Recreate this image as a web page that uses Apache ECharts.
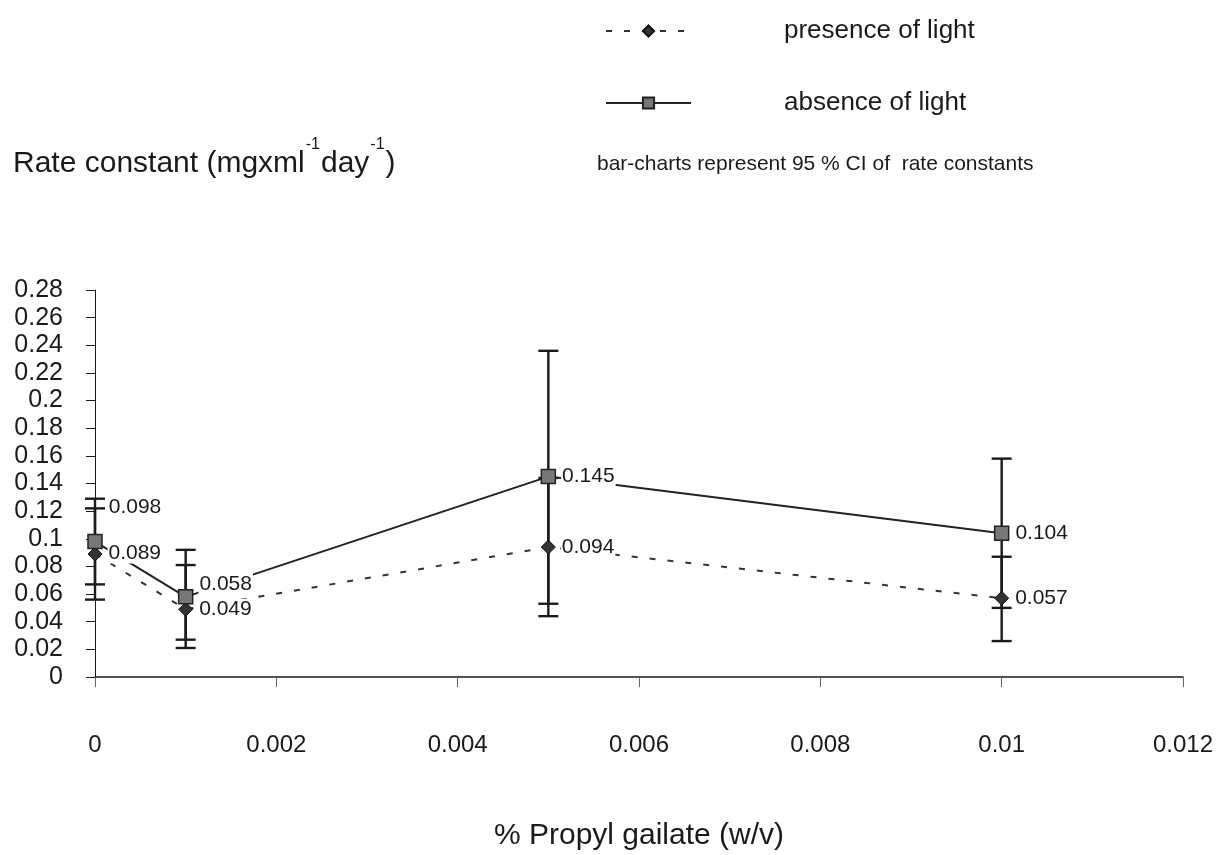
<!DOCTYPE html>
<html>
<head>
<meta charset="utf-8">
<script src="https://cdn.jsdelivr.net/npm/echarts@6/dist/echarts.min.js"></script>
<style>
html,body{margin:0;padding:0;background:#fff;}
#chart{width:1223px;height:855px;}
</style>
</head>
<body>
<div id="chart"></div>
<script>
// ---- data ----
const xValues = [0, 0.001, 0.005, 0.01];
const presence = [0.089, 0.049, 0.094, 0.057];
const absence = [0.098, 0.058, 0.145, 0.104];
const presenceLow = [0.056, 0.021, 0.044, 0.026];
const presenceHigh = [0.122, 0.081, 0.144, 0.087];
const absenceLow = [0.067, 0.027, 0.053, 0.050];
const absenceHigh = [0.129, 0.092, 0.236, 0.158];
const seriesNames = ['presence of light', 'absence of light'];
const xTitle = '% Propyl gailate (w/v)';
const note = 'bar-charts represent 95 % CI of  rate constants';

const FONT = '"Liberation Sans", Arial, sans-serif';
const INK = '#1a1a1a';

// label placement (style only)
const absLabelOffset = [[0, -34], [0, -13], [0, 0], [0, 0]];
const preLabelOffset = [[0, -1], [0, 0], [0, 0], [0, 0]];

function pts(vals, offs) {
  return xValues.map((x, i) => ({
    value: [x, vals[i]],
    label: { offset: offs[i] }
  }));
}
function bars(lo, hi) {
  return xValues.map((x, i) => [x, lo[i], hi[i]]);
}

function renderErr(params, api) {
  const x = api.value(0);
  const top = api.coord([x, api.value(2)]);
  const bot = api.coord([x, api.value(1)]);
  const hw = 10;
  const st = { stroke: INK, lineWidth: 2.4 };
  return {
    type: 'group',
    children: [
      { type: 'line', shape: { x1: top[0], y1: top[1], x2: bot[0], y2: bot[1] }, style: st },
      { type: 'line', shape: { x1: top[0] - hw, y1: top[1], x2: top[0] + hw, y2: top[1] }, style: st },
      { type: 'line', shape: { x1: bot[0] - hw, y1: bot[1], x2: bot[0] + hw, y2: bot[1] }, style: st }
    ]
  };
}

const labelStyle = {
  show: true,
  position: 'right',
  distance: 5,
  fontFamily: FONT,
  fontSize: 21,
  color: INK,
  backgroundColor: '#fff',
  padding: [0, 1],
  formatter: p => p.value[1].toFixed(3)
};

const chart = echarts.init(document.getElementById('chart'), null, { renderer: 'canvas' });
chart.setOption({
  backgroundColor: '#fff',
  animation: false,
  textStyle: { fontFamily: FONT },
  title: [
    {
      text: '{n|Rate constant (mgxml}{s|-1}{n|day}{s|-1}{n|)}',
      left: 8, top: 128,
      textStyle: {
        fontWeight: 'normal',
        rich: {
          n: { fontFamily: FONT, fontSize: 30, fontWeight: 'normal', color: INK, lineHeight: 46, verticalAlign: 'bottom' },
          s: { fontFamily: FONT, fontSize: 16, fontWeight: 'normal', color: INK, lineHeight: 46, verticalAlign: 'top', padding: [4, 1, 0, 1] }
        }
      }
    },
    {
      text: note,
      left: 592, top: 149,
      textStyle: { fontFamily: FONT, fontSize: 21, fontWeight: 'normal', color: INK }
    }
  ],
  legend: {
    orient: 'vertical',
    left: 600, top: 13,
    itemWidth: 85, itemHeight: 14,
    itemGap: 46,
    data: seriesNames,
    textStyle: { fontFamily: FONT, fontSize: 26, color: INK, padding: [0, 0, 0, 88] }
  },
  grid: { left: 95, right: 40, top: 290, bottom: 178, outerBoundsMode: 'none', containLabel: false },
  xAxis: {
    type: 'value',
    min: 0, max: 0.012, interval: 0.002,
    name: xTitle,
    nameLocation: 'middle',
    nameGap: 144,
    nameTextStyle: { fontFamily: FONT, fontSize: 30, color: INK },
    axisLine: { lineStyle: { color: INK, width: 1.5 } },
    axisTick: { show: true, length: 10, lineStyle: { color: '#666' } },
    axisLabel: { margin: 56, fontFamily: FONT, fontSize: 24, color: INK },
    splitLine: { show: false }
  },
  yAxis: {
    type: 'value',
    min: 0, max: 0.28, interval: 0.02,
    axisLine: { show: true, lineStyle: { color: INK, width: 1 } },
    axisTick: { show: true, length: 9, lineStyle: { color: INK } },
    axisLabel: { margin: 32, fontFamily: FONT, fontSize: 25, color: INK },
    splitLine: { show: false }
  },
  series: [
    {
      name: seriesNames[0],
      type: 'line',
      data: pts(presence, preLabelOffset),
      symbol: 'diamond',
      symbolSize: 14,
      itemStyle: { color: '#333', borderColor: '#111', borderWidth: 1 },
      lineStyle: { color: '#333', width: 2, type: [6, 12] },
      label: labelStyle,
      z: 3
    },
    {
      name: seriesNames[1],
      type: 'line',
      data: pts(absence, absLabelOffset),
      symbol: 'rect',
      symbolSize: 14,
      itemStyle: { color: '#777', borderColor: '#222', borderWidth: 1.5 },
      lineStyle: { color: '#222', width: 2 },
      label: labelStyle,
      z: 3
    },
    {
      type: 'custom',
      name: 'ci-presence',
      renderItem: renderErr,
      data: bars(presenceLow, presenceHigh),
      encode: { x: 0, y: [1, 2] },
      z: 2
    },
    {
      type: 'custom',
      name: 'ci-absence',
      renderItem: renderErr,
      data: bars(absenceLow, absenceHigh),
      encode: { x: 0, y: [1, 2] },
      z: 2
    }
  ]
});
</script>
</body>
</html>
